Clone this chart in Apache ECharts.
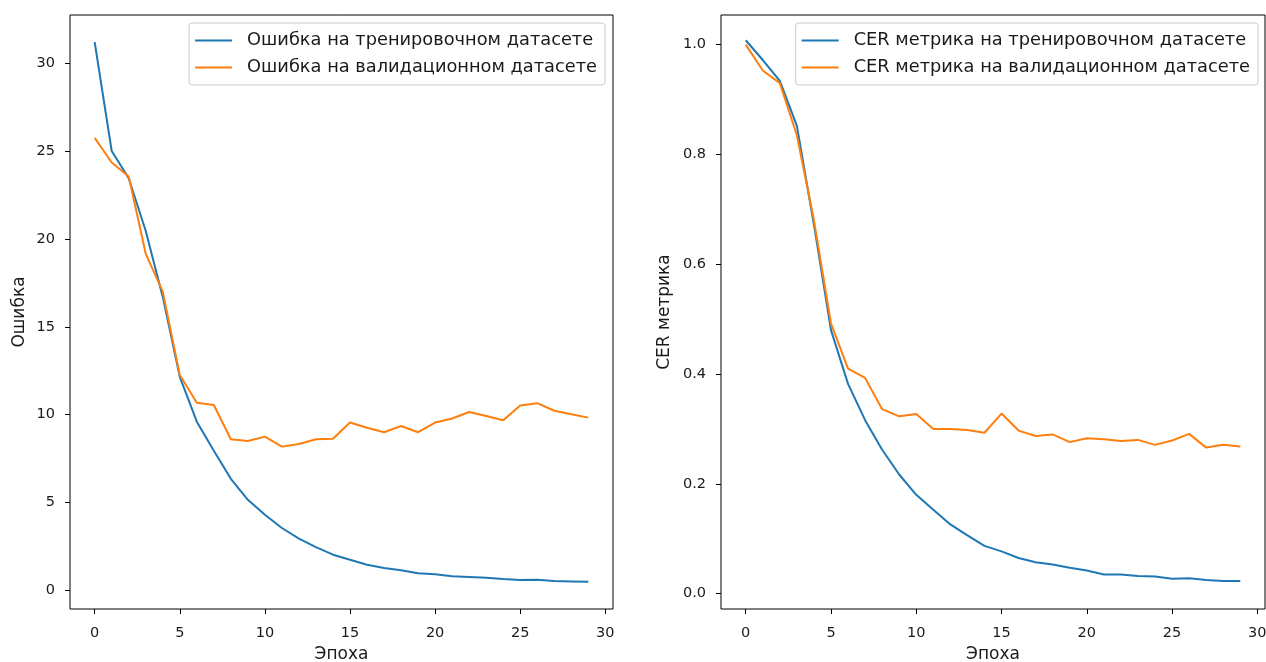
<!DOCTYPE html>
<html>
<head>
<meta charset="utf-8">
<script src="https://cdn.jsdelivr.net/npm/echarts@6/dist/echarts.min.js"></script>
<style>html,body{margin:0;padding:0;background:#fff}#c{width:1266px;height:662px}</style>
</head>
<body>
<div id="c"></div>
<script>
const epochs = [0,1,2,3,4,5,6,7,8,9,10,11,12,13,14,15,16,17,18,19,20,21,22,23,24,25,26,27,28,29];
const lossTrain = [31.2, 25.0, 23.45, 20.45, 16.7, 12.15, 9.6, 7.95, 6.35, 5.15, 4.3, 3.55, 2.94, 2.46, 2.03, 1.74, 1.46, 1.27, 1.14, 0.98, 0.92, 0.8, 0.76, 0.72, 0.65, 0.59, 0.6, 0.53, 0.51, 0.49];
const lossVal = [25.75, 24.35, 23.55, 19.15, 17.0, 12.25, 10.68, 10.55, 8.6, 8.5, 8.75, 8.18, 8.33, 8.6, 8.63, 9.55, 9.25, 9.0, 9.35, 9.0, 9.55, 9.78, 10.15, 9.92, 9.68, 10.52, 10.65, 10.22, 10.02, 9.83];
const cerTrain = [1.008, 0.972, 0.934, 0.852, 0.672, 0.48, 0.382, 0.316, 0.262, 0.217, 0.18, 0.153, 0.126, 0.106, 0.087, 0.077, 0.065, 0.057, 0.053, 0.047, 0.042, 0.035, 0.035, 0.032, 0.031, 0.027, 0.028, 0.025, 0.023, 0.023];
const cerVal = [1.0, 0.953, 0.93, 0.835, 0.68, 0.492, 0.41, 0.393, 0.336, 0.323, 0.327, 0.3, 0.3, 0.298, 0.293, 0.328, 0.297, 0.287, 0.29, 0.276, 0.283, 0.281, 0.278, 0.28, 0.271, 0.279, 0.291, 0.266, 0.271, 0.268];
const xTicks = [0, 5, 10, 15, 20, 25, 30];
const lossTicks = [0, 5, 10, 15, 20, 25, 30];
const cerTicks = [0, 0.2, 0.4, 0.6, 0.8, 1.0];
const names = {
  lossTrain: 'Ошибка на тренировочном датасете',
  lossVal: 'Ошибка на валидационном датасете',
  cerTrain: 'CER метрика на тренировочном датасете',
  cerVal: 'CER метрика на валидационном датасете'
};

const FONT = 'DejaVu Sans';
const TICK_FS = 14.5;
const LABEL_FS = 17;
const LEG_FS = 17.8;
const TXT = '#1a1a1a';
const BLUE = '#1f77b4', ORANGE = '#ff7f0e';

function pairs(vals) { return epochs.map((e, i) => [e, vals[i]]); }

function xAxisCfg(gridIndex) {
  return {
    gridIndex, type: 'value', min: -1.45, max: 30.45,
    name: 'Эпоха', nameLocation: 'middle', nameGap: 37,
    nameTextStyle: { fontFamily: FONT, fontSize: LABEL_FS, color: TXT },
    axisLine: { show: false, onZero: false },
    splitLine: { show: false },
    axisTick: { show: true, inside: false, length: 5, customValues: xTicks, lineStyle: { color: '#000', width: 1 } },
    axisLabel: { customValues: xTicks, margin: 17, fontFamily: FONT, fontSize: TICK_FS, color: TXT, showMinLabel: true, showMaxLabel: true }
  };
}
function yAxisCfg(gridIndex, min, max, ticks, name, gap, fmt) {
  return {
    gridIndex, type: 'value', min, max,
    name, nameLocation: 'middle', nameGap: gap, nameRotate: 90,
    nameTextStyle: { fontFamily: FONT, fontSize: LABEL_FS, color: TXT },
    axisLine: { show: false, onZero: false },
    splitLine: { show: false },
    axisTick: { show: true, inside: false, length: 5, customValues: ticks, lineStyle: { color: '#000', width: 1 } },
    axisLabel: { customValues: ticks, margin: 15, fontFamily: FONT, fontSize: TICK_FS, color: TXT, formatter: fmt }
  };
}
function legendCfg(right, items) {
  return {
    right, top: 23, orient: 'vertical', align: 'left',
    data: items,
    icon: 'rect', itemWidth: 37, itemHeight: 2, itemGap: 6,
    backgroundColor: 'rgba(255,255,255,0.8)', borderColor: '#cccccc', borderWidth: 1, borderRadius: 3,
    padding: [7, 8, 7, 6],
    textStyle: { fontFamily: FONT, fontSize: LEG_FS, color: TXT, lineHeight: 21, padding: [0, 0, 0, 10] },
    selectedMode: false
  };
}
function lineSeries(name, vals, color, xi, yi) {
  return {
    name, type: 'line', xAxisIndex: xi, yAxisIndex: yi, data: pairs(vals),
    showSymbol: false, symbol: 'none', smooth: false, animation: false,
    lineStyle: { color, width: 2 }, itemStyle: { color }
  };
}

const chart = echarts.init(document.getElementById('c'), null, { renderer: 'canvas' });
chart.setOption({
  backgroundColor: '#fff',
  animation: false,
  grid: [
    { left: 70, top: 15, width: 543, height: 594, outerBoundsMode: 'none', containLabel: false, show: true, borderColor: '#000', borderWidth: 1, backgroundColor: 'transparent' },
    { left: 721, top: 15, width: 544, height: 594, outerBoundsMode: 'none', containLabel: false, show: true, borderColor: '#000', borderWidth: 1, backgroundColor: 'transparent' }
  ],
  xAxis: [xAxisCfg(0), xAxisCfg(1)],
  yAxis: [
    yAxisCfg(0, -1.06, 32.74, lossTicks, 'Ошибка', 42, v => String(v)),
    yAxisCfg(1, -0.028, 1.054, cerTicks, 'CER метрика', 48, v => v.toFixed(1))
  ],
  legend: [
    legendCfg(1266 - 605, [names.lossTrain, names.lossVal]),
    legendCfg(1266 - 1258, [names.cerTrain, names.cerVal])
  ],
  series: [
    lineSeries(names.lossTrain, lossTrain, BLUE, 0, 0),
    lineSeries(names.lossVal, lossVal, ORANGE, 0, 0),
    lineSeries(names.cerTrain, cerTrain, BLUE, 1, 1),
    lineSeries(names.cerVal, cerVal, ORANGE, 1, 1)
  ]
});
</script>
</body>
</html>
